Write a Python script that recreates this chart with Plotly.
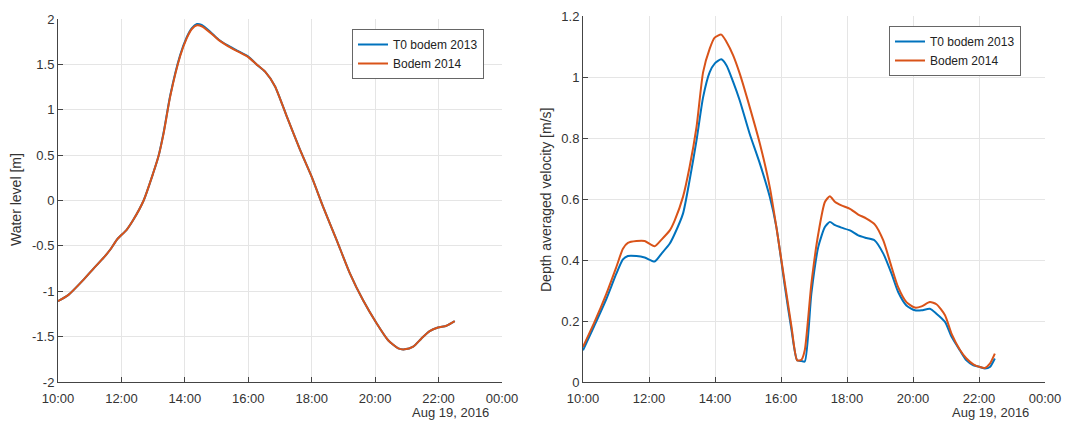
import pandas as pd
import plotly.graph_objects as go

DAY = "2016-08-19"
series_names = ["T0 bodem 2013", "Bodem 2014"]
colors = ["#0072BD", "#D95319"]

# Left panel: water level [m]
wl_hours = [10.0, 10.33, 10.8, 11.12, 11.44, 11.65, 11.86, 12.17, 12.38, 12.7, 13.0, 13.17,
            13.33, 13.54, 13.85, 14.06, 14.22, 14.38, 14.53, 14.8, 15.06, 15.32, 15.63, 16.0,
            16.26, 16.53, 16.84, 17.21, 17.63, 18.0, 18.36, 18.78, 19.2, 19.62, 20.04, 20.41,
            20.73, 20.93, 21.2, 21.46, 21.72, 21.98, 22.25, 22.51]
wl_2014 = [-1.11, -1.04, -0.875, -0.75, -0.63, -0.54, -0.43, -0.32, -0.21, 0.0, 0.30, 0.49,
           0.74, 1.15, 1.59, 1.79, 1.89, 1.93, 1.92, 1.85, 1.77, 1.71, 1.65, 1.58,
           1.50, 1.42, 1.26, 0.93, 0.56, 0.26, -0.07, -0.43, -0.80, -1.10, -1.35, -1.54,
           -1.63, -1.64, -1.61, -1.52, -1.44, -1.40, -1.38, -1.33]
wl_2013 = [-1.11, -1.04, -0.875, -0.75, -0.63, -0.54, -0.43, -0.32, -0.21, 0.0, 0.30, 0.49,
           0.75, 1.16, 1.60, 1.80, 1.90, 1.945, 1.935, 1.86, 1.775, 1.715, 1.655, 1.585,
           1.50, 1.42, 1.26, 0.93, 0.56, 0.26, -0.07, -0.43, -0.80, -1.10, -1.35, -1.54,
           -1.63, -1.64, -1.61, -1.52, -1.44, -1.40, -1.38, -1.33]
wl_ticks = [-2, -1.5, -1, -0.5, 0, 0.5, 1, 1.5, 2]
wl_ticklabels = ["-2", "-1.5", "-1", "-0.5", "0", "0.5", "1", "1.5", "2"]

# Right panel: depth averaged velocity [m/s]
v_hours = [10.0, 10.35, 10.71, 11.01, 11.21, 11.36, 11.62, 11.87, 12.17, 12.38, 12.63, 12.78,
           13.03, 13.23, 13.44, 13.64, 13.84, 13.99, 14.19, 14.35, 14.55, 14.75, 15.05, 15.36,
           15.66, 15.86, 16.12, 16.32, 16.49, 16.62, 16.72, 16.92, 17.13, 17.33, 17.48, 17.64,
           17.83, 18.09, 18.34, 18.59, 18.84, 19.1, 19.35, 19.55, 19.8, 20.06, 20.26, 20.51,
           20.71, 20.97, 21.17, 21.42, 21.62, 21.83, 22.03, 22.18, 22.33, 22.48]
v_2014 = [0.115, 0.197, 0.29, 0.377, 0.437, 0.456, 0.462, 0.462, 0.445, 0.467, 0.497, 0.53,
          0.607, 0.705, 0.836, 1.016, 1.093, 1.129, 1.139, 1.115, 1.071, 1.011, 0.902, 0.781,
          0.639, 0.508, 0.322, 0.18, 0.071, 0.073, 0.104, 0.322, 0.486, 0.59, 0.609, 0.59,
          0.579, 0.568, 0.549, 0.536, 0.517, 0.464, 0.377, 0.311, 0.262, 0.244, 0.248, 0.262,
          0.255, 0.219, 0.158, 0.106, 0.077, 0.058, 0.049, 0.046, 0.06, 0.093]
v_2013 = [0.104, 0.186, 0.273, 0.355, 0.402, 0.413, 0.413, 0.408, 0.395, 0.421, 0.454, 0.486,
          0.552, 0.661, 0.792, 0.934, 1.016, 1.044, 1.058, 1.038, 0.984, 0.923, 0.814, 0.716,
          0.607, 0.508, 0.311, 0.169, 0.071, 0.069, 0.067, 0.29, 0.443, 0.508, 0.525, 0.514,
          0.506, 0.497, 0.481, 0.472, 0.464, 0.421, 0.355, 0.295, 0.251, 0.235, 0.235, 0.240,
          0.224, 0.197, 0.148, 0.104, 0.071, 0.055, 0.049, 0.044, 0.049, 0.077]
v_ticks = [0, 0.2, 0.4, 0.6, 0.8, 1.0, 1.2]
v_ticklabels = ["0", "0.2", "0.4", "0.6", "0.8", "1", "1.2"]


def to_time(hours):
    base = pd.Timestamp(DAY)
    return [base + pd.Timedelta(hours=h) for h in hours]


fig = go.Figure()
for name, col, vals in zip(series_names, colors, [wl_2013, wl_2014]):
    fig.add_trace(go.Scatter(x=to_time(wl_hours), y=vals, name=name, mode="lines",
                             line=dict(color=col, width=2, shape="spline", smoothing=0.6),
                             xaxis="x", yaxis="y", legend="legend"))
for name, col, vals in zip(series_names, colors, [v_2013, v_2014]):
    fig.add_trace(go.Scatter(x=to_time(v_hours), y=vals, name=name, mode="lines",
                             line=dict(color=col, width=2, shape="spline", smoothing=0.6),
                             xaxis="x2", yaxis="y2", legend="legend2"))

W, H = 1066, 421


def px(x):
    return x / W


def py(y):
    return (H - y) / H


xr = [pd.Timestamp(DAY + " 10:00"), pd.Timestamp(DAY) + pd.Timedelta(hours=24)]
axis_common = dict(showgrid=True, gridcolor="#e5e5e5", gridwidth=1, showline=True,
                   linecolor="#444", linewidth=1, ticks="inside", ticklen=5,
                   tickcolor="#444", tickfont=dict(family="Liberation Sans", size=13, color="#333"),
                   zeroline=False, mirror=False, automargin=False)
xcommon = dict(axis_common, type="date", range=xr, tickformat="%H:%M", dtick=2 * 3600 * 1000,
               tick0=DAY + " 10:00", ticklabelstandoff=4, ticklabeloverflow="allow")

legend_common = dict(xanchor="left", yanchor="top", bordercolor="#666", borderwidth=1,
                     bgcolor="white", font=dict(family="Liberation Sans", size=12, color="#222"),
                     tracegroupgap=0, itemwidth=30)

fig.update_layout(
    width=W, height=H, margin=dict(l=0, r=0, t=0, b=0, autoexpand=False),
    paper_bgcolor="white", plot_bgcolor="white",
    font=dict(family="Liberation Sans", color="#333"),
    xaxis=dict(xcommon, domain=[px(58), px(502)], anchor="y"),
    yaxis=dict(axis_common, domain=[py(382), py(19)], range=[-2, 2],
               tickmode="array", tickvals=wl_ticks, ticktext=wl_ticklabels, anchor="x"),
    xaxis2=dict(xcommon, domain=[px(583), px(1045)], anchor="y2"),
    yaxis2=dict(axis_common, domain=[py(382), py(16)], range=[0, 1.2],
                tickmode="array", tickvals=v_ticks, ticktext=v_ticklabels, anchor="x2"),
    legend=dict(legend_common, x=px(352), y=py(29)),
    legend2=dict(legend_common, x=px(889), y=py(26)),
    showlegend=True,
)

annos = [
    dict(text="Water level [m]", x=px(16), y=py(200), textangle=-90, font_size=14),
    dict(text="Depth averaged velocity [m/s]", x=px(546), y=py(200), textangle=-90, font_size=14),
    dict(text="Aug 19, 2016", x=px(450), y=py(412), font_size=13),
    dict(text="Aug 19, 2016", x=px(990), y=py(412), font_size=13),
]
for a in annos:
    fig.add_annotation(xref="paper", yref="paper", showarrow=False, xanchor="center",
                       yanchor="middle", font=dict(family="Liberation Sans", size=a["font_size"], color="#333"),
                       text=a["text"], x=a["x"], y=a["y"], textangle=a.get("textangle", 0))

# remove the default page margin so the 1066x421 figure fills the window exactly
fig.write_html("out.html", config={"displayModeBar": False},
               post_script="document.body.style.margin='0';document.body.style.overflow='hidden';")
